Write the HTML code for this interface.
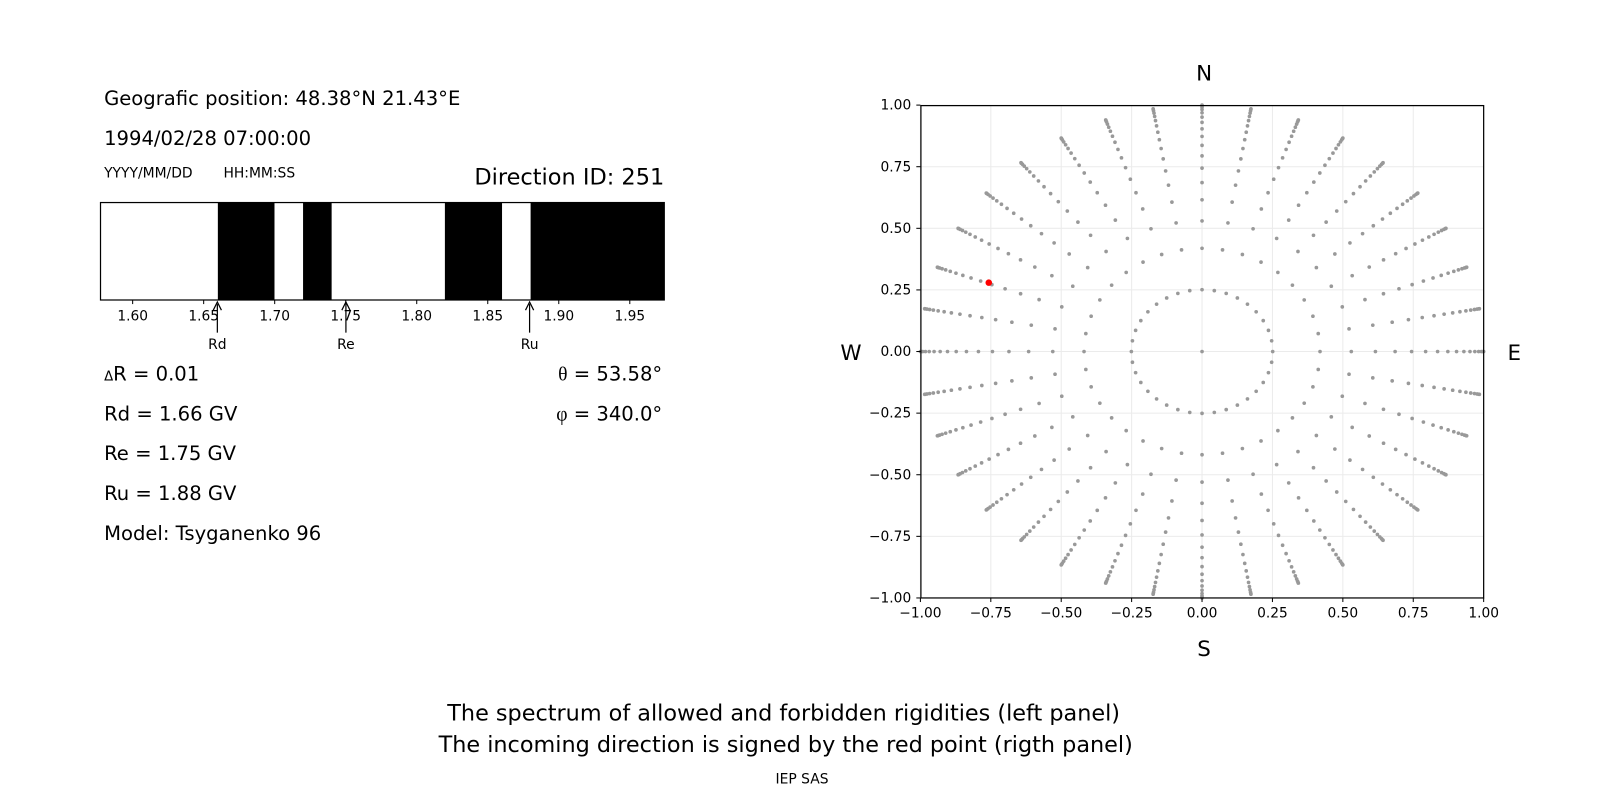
<!DOCTYPE html>
<html><head><meta charset="utf-8"><style>
html,body{margin:0;padding:0;background:#fff;}
svg{display:block;font-family:"DejaVu Sans","Liberation Sans",sans-serif;}
</style></head><body>
<svg width="1600" height="800" viewBox="0 0 1600 800" xmlns="http://www.w3.org/2000/svg">
<rect width="1600" height="800" fill="#fff"/>
<g transform="scale(1.0204)">
<text x="102" y="103" font-size="19.2">Geografic position: 48.38°N 21.43°E</text>
<text x="102" y="142" font-size="19.2">1994/02/28 07:00:00</text>
<text x="102" y="174" font-size="13.6">YYYY/MM/DD</text>
<text x="219" y="174" font-size="13.6">HH:MM:SS</text>
<text x="651" y="181" font-size="22" text-anchor="end">Direction ID: 251</text>
<g fill="#000">
<rect x="213.5" y="198" width="55.5" height="96"/>
<rect x="297" y="198" width="28" height="96"/>
<rect x="436" y="198" width="56" height="96"/>
<rect x="520" y="198" width="131" height="96"/>
</g>
<rect x="98.5" y="198.5" width="552.5" height="95.5" fill="none" stroke="#000" stroke-width="1.2"/>
<g font-size="13.5" text-anchor="middle" id="bt"></g>
<g stroke="#000" stroke-width="1.2">
<line x1="213" y1="298" x2="213" y2="326"/><line x1="339" y1="298" x2="339" y2="326"/><line x1="519" y1="298" x2="519" y2="326"/>
</g>
<g fill="none" stroke="#000" stroke-width="1.2">
<path d="M209,304 L213,296 L217,304"/><path d="M335,304 L339,296 L343,304"/><path d="M515,304 L519,296 L523,304"/>
</g>
<g font-size="13.6" text-anchor="middle"><text x="213" y="342">Rd</text><text x="339" y="342">Re</text><text x="519" y="342">Ru</text></g>
<g font-size="19.2">
<text x="102" y="373"><tspan font-size="13">Δ</tspan>R = 0.01</text>
<text x="102" y="412">Rd = 1.66 GV</text>
<text x="102" y="451">Re = 1.75 GV</text>
<text x="102" y="490">Ru = 1.88 GV</text>
<text x="102" y="529">Model: Tsyganenko 96</text>
<text x="649" y="373" text-anchor="end"><tspan font-family="Liberation Serif,serif">θ</tspan> = 53.58°</text>
<text x="649" y="412" text-anchor="end"><tspan font-family="Liberation Serif,serif">φ</tspan> = 340.0°</text>
</g>
<g id="grid" stroke="#ebebeb" stroke-width="1"></g>
<g id="dots" fill="#999"></g>
<circle cx="969" cy="277" r="3.2" fill="#f00"/>
<rect x="902.5" y="103.5" width="551.5" height="482.5" fill="none" stroke="#000" stroke-width="1.2"/>
<g id="ticks" stroke="#000" stroke-width="1"></g>
<g id="tl" font-size="13.5"></g>
<g font-size="21" text-anchor="middle">
<text x="1180" y="79">N</text><text x="1180" y="643">S</text>
<text x="834" y="353">W</text><text x="1484" y="353">E</text>
</g>
<g font-size="21.9" text-anchor="middle">
<text x="768" y="706">The spectrum of allowed and forbidden rigidities (left panel)</text>
<text x="770" y="737">The incoming direction is signed by the red point (rigth panel)</text>
</g>
<text x="786" y="768" font-size="13.6" text-anchor="middle">IEP SAS</text>
</g>
</svg>
<script>
var NS="http://www.w3.org/2000/svg";
function el(p,t,a,txt){var e=document.createElementNS(NS,t);for(var k in a)e.setAttribute(k,a[k]);if(txt!=null)e.textContent=txt;document.getElementById(p).appendChild(e);}
var v=[1.60,1.65,1.70,1.75,1.80,1.85,1.90,1.95];
v.forEach(function(x){var px=130+(x-1.60)*1392;el("bt","line",{x1:px,y1:294,x2:px,y2:298,stroke:"#000"});el("bt","text",{x:px,y:314},x.toFixed(2));});
var cx=1178,cy=344.5,sx=276,sy=241.5;
var tv=[-1,-0.75,-0.5,-0.25,0,0.25,0.5,0.75,1];
tv.forEach(function(t){var px=cx+t*sx,py=cy-t*sy;
el("grid","line",{x1:px,y1:103,x2:px,y2:586});el("grid","line",{x1:902,y1:py,x2:1454,y2:py});
el("ticks","line",{x1:px,y1:586,x2:px,y2:590});el("ticks","line",{x1:898,y1:py,x2:902,y2:py});
var s=t.toFixed(2).replace("-","\u2212");
el("tl","text",{x:px,y:605,"text-anchor":"middle"},s);
el("tl","text",{x:893,y:py+4.5,"text-anchor":"end"},s);});
el("dots","circle",{cx:cx,cy:cy,r:1.8});
for(var a=0;a<360;a+=10){var ar=a*Math.PI/180;
for(var k=0;k<17;k++){var c=0.968-0.06*k;if(c<0)c=0;var r=Math.sqrt(1-c*c);
el("dots","circle",{cx:cx+r*Math.sin(ar)*sx,cy:cy-r*Math.cos(ar)*sy,r:1.8});}}
</script>
</body></html>
